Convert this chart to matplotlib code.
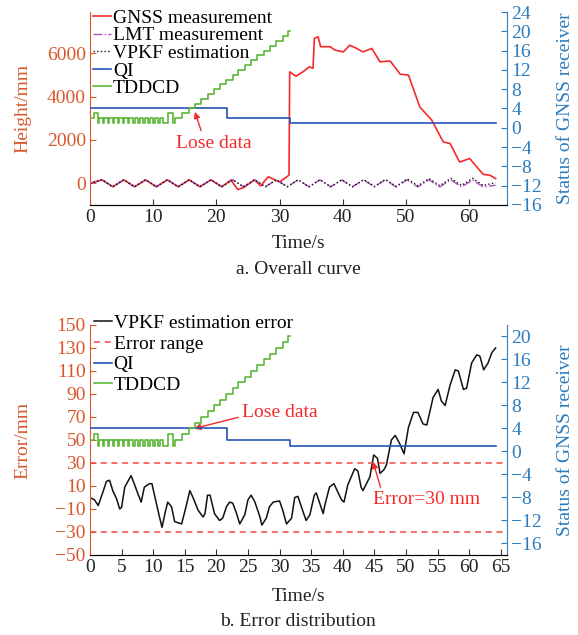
import matplotlib
matplotlib.use("Agg")
import matplotlib.pyplot as plt

plt.rcParams['font.family'] = ['Liberation Serif', 'DejaVu Serif']
plt.rcParams['font.size'] = 14
plt.rcParams['axes.unicode_minus'] = True

# ---- data ----
# LMT / VPKF turning points (time s, height mm)
wave_t = [0, 1.9, 3.6, 5.35, 7.05, 8.8, 10.5, 12.25, 13.95, 15.7, 17.4, 19.15,
          20.85, 22.6, 24.3, 26.05, 27.75, 29.5, 31.2, 32.95, 34.65, 36.4, 38.1,
          39.85, 41.55, 43.3, 45.0, 46.75, 48.45, 50.2, 51.9, 53.65, 55.35,
          57.1, 58.8, 60.55, 62.25, 64.2]
lmt_h = [0, 160, -160, 160, -160, 160, -160, 160, -160, 160, -160, 160,
         -160, 160, -160, 160, -160, 160, -160, 160, -160, 160, -160,
         160, -160, 160, -160, 160, -170, 160, -170, 160, -170,
         160, -170, 150, -170, -90]
vpkf_h = [0, 160, -160, 160, -160, 160, -160, 160, -160, 160, -160, 160,
          -160, 160, -160, 160, -160, 160, -160, 160, -160, 160, -160,
          160, -160, 170, -150, 180, -140, 200, -120, 220, -110,
          230, -100, 230, -100, 30]

# GNSS measurement
gnss_t = [0, 1.9, 3.6, 5.35, 7.05, 8.8, 10.5, 12.25, 13.95, 15.7, 17.4, 19.15,
          20.85, 22.3, 23.4, 24.3, 26.05, 27.0, 28.2, 28.6, 30.0, 31.3, 31.5,
          31.6, 32.6, 33.7, 34.7, 35.3, 35.5, 36.1, 36.5, 38.0, 38.8, 40.1,
          41.1, 42.2, 43.2, 44.6, 45.9, 47.5, 49.1, 50.4, 52.2, 54.1, 55.9,
          57.0, 58.5, 60.1, 62.2, 63.3, 64.2]
gnss_h = [0, 160, -160, 160, -160, 160, -160, 160, -160, 160, -160, 160,
          -160, 150, -290, -200, 160, -120, 300, 250, 60, 330, 400,
          5140, 4940, 5140, 5370, 5300, 6680, 6760, 6300, 6300, 6140, 6060,
          6370, 6220, 6060, 6220, 5600, 5640, 5030, 4990, 3520, 2910, 1910,
          1830, 980, 1140, 415, 370, 220]

# QI (status of GNSS receiver)
qi_t = [0, 21.7, 31.6, 64.2]
qi_v = [4, 2, 1, 1]

# TDDCD steps (start time of each level)
tddcd_t = [0, 0.6, 1.2, 1.45, 2.0, 2.25, 2.8, 3.05, 3.6, 3.85, 4.4, 4.65,
           5.2, 5.45, 6.0, 6.25, 6.8, 7.05, 7.6, 7.85, 8.4, 8.65, 9.2, 9.45,
           10.0, 10.25, 10.8, 11.05, 11.6, 12.4, 13.1, 13.5, 14.5, 15.6,
           16.6, 17.6, 18.6, 19.6, 20.6, 21.6, 22.6, 23.5, 24.5, 25.5, 26.5,
           27.5, 28.5, 29.5, 30.5, 31.4, 31.6]
tddcd_v = [2, 3, 1, 2, 1, 2, 1, 2, 1, 2, 1, 2,
           1, 2, 1, 2, 1, 2, 1, 2, 1, 2, 1, 2,
           1, 2, 1, 2, 1, 3, 1, 2, 3, 4,
           5, 6, 7, 8, 9, 10, 11, 12, 13, 14, 15,
           16, 17, 18, 19, 20, 20]

# VPKF estimation error (time s, error mm)
err_t = [0, 0.7, 1.3, 2.0, 2.6, 3.1, 3.6, 4.2, 4.7, 5.0, 5.5, 6.5, 7.0, 7.6,
         8.1, 8.6, 9.4, 9.8, 10.5, 11.0, 11.4, 11.9, 12.3, 12.9, 13.4, 14.5,
         15.2, 15.8, 16.3, 17.1, 17.9, 18.2, 18.6, 19.0, 19.7, 20.5, 21.0,
         21.6, 22.1, 22.6, 23.2, 23.7, 24.5, 25.0, 25.5, 26.1, 26.9, 27.2,
         27.9, 28.4, 29.0, 30.0, 30.5, 31.1, 31.9, 32.4, 32.9, 33.7, 34.2,
         34.8, 35.5, 35.8, 36.3, 36.9, 37.2, 37.9, 38.6, 39.8, 40.2, 40.8,
         41.9, 42.4, 42.9, 43.2, 44.3, 44.9, 45.5, 45.9, 46.5, 46.9, 47.7,
         48.3, 49.0, 49.7, 50.4, 51.2, 51.9, 52.7, 53.3, 54.3, 55.1, 55.6,
         56.2, 57.0, 57.8, 58.3, 59.1, 59.6, 60.4, 61.2, 61.7, 62.3, 63.0,
         63.6, 64.2]
err_v = [0, -2, -7, 4, 14, 15, 6, -1, -10, -8.5, 9, 19, 12, 3,
         -4, 9, 12, 12, -5, -17, -26, -13, -4, -8, -21, -23,
         -8, 6, 0, -11, -17, -14, 2, 2, -14, -20, -18,
         -8, -4, -5, -14, -23, -15, -2, 2, -4, -17, -24,
         -18, -8, -4, -3, -11, -23, -18, 0, 1, -12, -20,
         -15, 2, 4, -4, -14, -6, 9, 12, -2, -4, 11,
         25, 23, 9, 6, 18, 37, 34, 21, 24, 28, 50,
         54, 47, 38, 61, 74, 74, 64, 63, 87, 94, 84,
         80, 98, 111, 110, 94, 95, 117, 124, 123, 111, 117,
         126, 130]
err_range = 30

left_c = '#D9572B'
right_c = '#2B7BBE'
red = '#F42A2A'
fs = 14

fig = plt.figure(figsize=(5.78, 6.35), dpi=100)


def style_axes(ax, ax2):
    ax.spines['top'].set_visible(False)
    ax2.spines['top'].set_visible(False)
    ax.spines['left'].set_color(left_c)
    ax2.spines['left'].set_visible(False)
    ax2.spines['right'].set_color(right_c)
    ax.spines['right'].set_visible(False)
    ax.spines['bottom'].set_color('#333333')
    ax.tick_params(axis='y', direction='in', colors=left_c, length=4, labelsize=fs, pad=3)
    ax.tick_params(axis='x', direction='in', colors='#333333', length=4,
                   labelsize=fs, labelcolor='#222222', pad=3)
    ax2.tick_params(axis='y', direction='in', colors=right_c, length=4, labelsize=fs, pad=3)
    ax.set_xlim(0, 66)


# ---------- a. Overall curve ----------
ax = fig.add_axes([0.1557, 0.6772, 0.7215, 0.3039])
ax2 = ax.twinx()
style_axes(ax, ax2)

l1, = ax.plot(gnss_t, gnss_h, color=red, lw=1.2, label='GNSS measurement')
l2, = ax.plot(wave_t, lmt_h, color='#B24FC0', lw=1.0, ls='-.', label='LMT measurement')
l3, = ax.plot(wave_t, vpkf_h, color='#111111', lw=1.0, ls=':', label='VPKF estimation')
l4, = ax2.plot(qi_t, qi_v, color='#2456B5', lw=1.2, drawstyle='steps-post', label='QI')
l5, = ax2.step(tddcd_t, tddcd_v, where='post', color='#5CB83A', lw=1.2, label='TDDCD')

ax.set_ylim(-1000, 7900)
ax.set_yticks([0, 2000, 4000, 6000])
ax.set_xticks([0, 10, 20, 30, 40, 50, 60])
ax2.set_ylim(-16, 24)
ax2.set_yticks(range(-16, 25, 4))

ax.set_ylabel('Height/mm', color=left_c, fontsize=fs)
ax.yaxis.set_label_coords(-0.14, 0.5)
ax2.set_ylabel('Status of GNSS receiver', color=right_c, fontsize=fs)
ax2.yaxis.set_label_coords(1.12, 0.5)
ax.set_xlabel('Time/s', color='#222222', fontsize=fs)
ax.xaxis.set_label_coords(0.5, -0.155)

ax2.legend(handles=[l1, l2, l3, l4, l5], loc='upper left', frameon=False,
           bbox_to_anchor=(0.008, 1.015), borderaxespad=0, borderpad=0,
           handlelength=0.9, handletextpad=0.1, labelspacing=0.0, fontsize=fs)

ax2.annotate('Lose data', xy=(16.6, 3.3), xytext=(19.6, -3.2), color=red,
             fontsize=fs, ha='center', va='center',
             arrowprops=dict(arrowstyle='-|>', color=red, lw=1.0,
                             relpos=(0.35, 1.0), mutation_scale=9,
                             shrinkA=1, shrinkB=0))

fig.text(298 / 578, 1 - 269 / 635, 'a. Overall curve', ha='center', va='center',
         fontsize=fs, color='#222222')

# ---------- b. Error distribution ----------
bx = fig.add_axes([0.1557, 0.126, 0.7215, 0.3622])
bx2 = bx.twinx()
style_axes(bx, bx2)

m1, = bx.plot(err_t, err_v, color='#111111', lw=1.1, label='VPKF estimation error')
m2 = bx.axhline(err_range, color='#F04848', lw=1.1, ls=(0, (4, 3)), label='Error range')
bx.axhline(-err_range, color='#F04848', lw=1.1, ls=(0, (4, 3)))
m3, = bx2.plot(qi_t, qi_v, color='#2456B5', lw=1.2, drawstyle='steps-post', label='QI')
m4, = bx2.step(tddcd_t, tddcd_v, where='post', color='#5CB83A', lw=1.2, label='TDDCD')

bx.set_ylim(-50, 150)
bx.set_yticks(range(-50, 151, 20))
bx.set_xticks(range(0, 66, 5))
bx2.set_ylim(-18, 22)
bx2.set_yticks(range(-16, 21, 4))

bx.set_ylabel('Error/mm', color=left_c, fontsize=fs)
bx.yaxis.set_label_coords(-0.14, 0.5)
bx2.set_ylabel('Status of GNSS receiver', color=right_c, fontsize=fs)
bx2.yaxis.set_label_coords(1.12, 0.5)
bx.set_xlabel('Time/s', color='#222222', fontsize=fs)
bx.xaxis.set_label_coords(0.5, -0.143)

bx2.legend(handles=[m1, m2, m3, m4], loc='upper left', frameon=False,
           bbox_to_anchor=(0.01, 1.045), borderaxespad=0, borderpad=0,
           handlelength=0.9, handletextpad=0.1, labelspacing=0.15, fontsize=fs)

bx.annotate('Lose data', xy=(16.5, 60), xytext=(30.1, 73.6), color=red,
            fontsize=fs, ha='center', va='center',
            arrowprops=dict(arrowstyle='-|>', color=red, lw=1.0,
                            relpos=(0.0, 0.3), mutation_scale=9,
                            shrinkA=1, shrinkB=0))
bx.annotate('Error=30 mm', xy=(44.8, 31), xytext=(53.3, -2), color=red,
            fontsize=fs, ha='center', va='center',
            arrowprops=dict(arrowstyle='-|>', color=red, lw=1.0,
                            relpos=(0.08, 1.0), mutation_scale=9,
                            shrinkA=1, shrinkB=0))

fig.text(298 / 578, 1 - 621 / 635, 'b. Error distribution', ha='center', va='center',
         fontsize=fs, color='#222222')

fig.savefig('out.png', dpi=100)
